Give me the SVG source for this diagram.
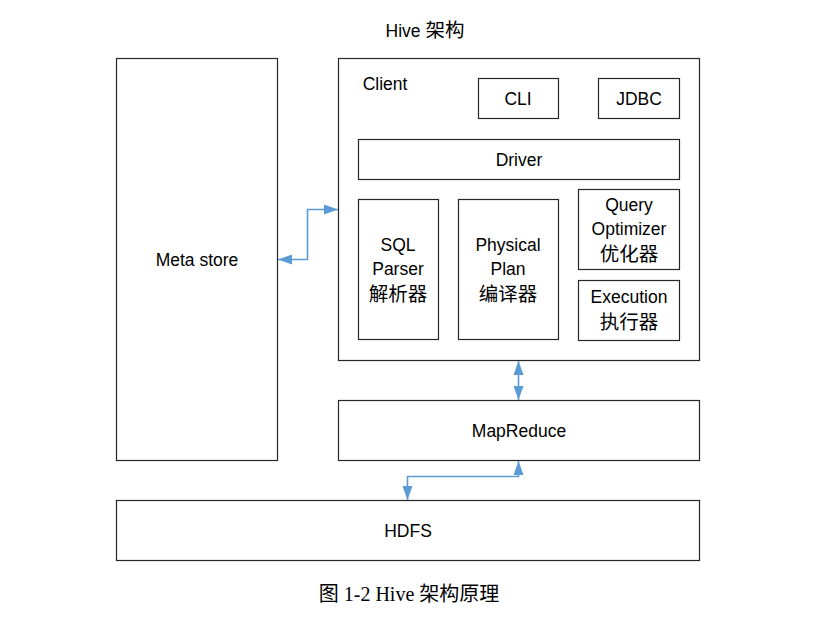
<svg xmlns="http://www.w3.org/2000/svg" width="837" height="617" viewBox="0 0 837 617">
<style>
.box{fill:#fff;stroke:#262626;stroke-width:1.2}
.t{font-family:"Liberation Sans","Noto Sans CJK SC",sans-serif;font-size:17.5px;fill:#000;text-anchor:middle}
.zh{font-size:19.5px}
.cap{font-family:"Liberation Serif","Noto Sans CJK SC",serif;font-size:20px;fill:#000;text-anchor:middle}
.c{fill:none;stroke:#5b9bd5;stroke-width:1.6}
</style>
<defs>
<marker id="ah" viewBox="0 0 14 10" refX="14" refY="5" markerWidth="14" markerHeight="10" markerUnits="userSpaceOnUse" orient="auto-start-reverse">
<path d="M0,0 L14,5 L0,10 z" fill="#5b9bd5"/>
</marker>
</defs>
<rect width="837" height="617" fill="#fff"/>
<text class="t" x="425" y="37">Hive <tspan class="zh">架构</tspan></text>
<g id="metastore"><rect class="box" x="116.5" y="58.5" width="161" height="402"/><text class="t" x="197" y="266">Meta store</text></g>
<g id="client"><rect class="box" x="338.5" y="58.5" width="361" height="302"/><text class="t" x="385" y="90">Client</text></g>
<g id="cli"><rect class="box" x="478.5" y="78.5" width="80" height="40"/><text class="t" x="518" y="105">CLI</text></g>
<g id="jdbc"><rect class="box" x="598.5" y="78.5" width="81" height="40"/><text class="t" x="639" y="105">JDBC</text></g>
<g id="driver"><rect class="box" x="358.5" y="139.5" width="321" height="40"/><text class="t" x="519" y="166">Driver</text></g>
<g id="sqlparser"><rect class="box" x="358.5" y="199.5" width="80" height="140"/><text class="t" x="398" y="251">SQL</text><text class="t" x="398" y="275">Parser</text><text class="t zh" x="398" y="301">解析器</text></g>
<g id="physicalplan"><rect class="box" x="458.5" y="199.5" width="100" height="140"/><text class="t" x="508" y="251">Physical</text><text class="t" x="508" y="275">Plan</text><text class="t zh" x="508" y="301">编译器</text></g>
<g id="optimizer"><rect class="box" x="578.5" y="189.5" width="101" height="80"/><text class="t" x="629" y="211">Query</text><text class="t" x="629" y="235">Optimizer</text><text class="t zh" x="629" y="261">优化器</text></g>
<g id="execution"><rect class="box" x="578.5" y="280.5" width="101" height="60"/><text class="t" x="629" y="303">Execution</text><text class="t zh" x="629" y="329">执行器</text></g>
<g id="mapreduce"><rect class="box" x="338.5" y="400.5" width="361" height="60"/><text class="t" x="519" y="437">MapReduce</text></g>
<g id="hdfs"><rect class="box" x="116.5" y="500.5" width="583" height="60"/><text class="t" x="408" y="537">HDFS</text></g>
<g id="connectors">
<path class="c" d="M278,259.5 H307.5 V209.5 H338" marker-start="url(#ah)" marker-end="url(#ah)"/>
<path class="c" d="M518.5,361 V400" marker-start="url(#ah)" marker-end="url(#ah)"/>
<path class="c" d="M518.5,461 V476.5 H407.5 V500" marker-start="url(#ah)" marker-end="url(#ah)"/>
</g>
<text class="cap" x="409" y="601">图 1-2 Hive 架构原理</text>
</svg>
